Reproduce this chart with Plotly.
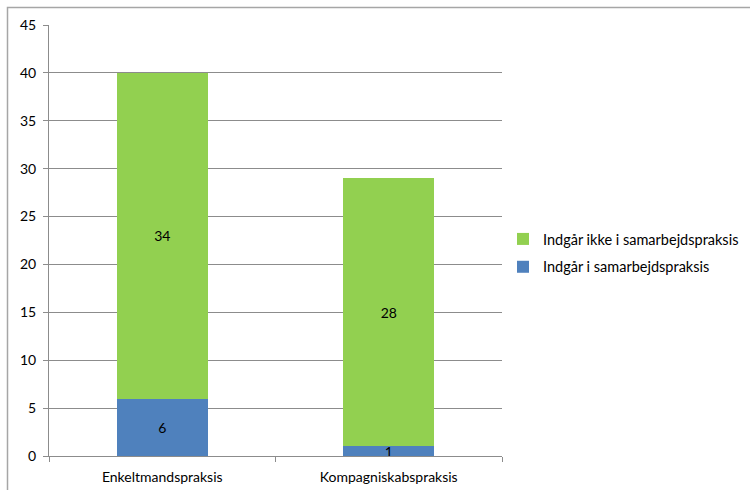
import plotly.graph_objects as go

categories = ["Enkeltmandspraksis", "Kompagniskabspraksis"]
series_in = [6, 1]
series_not_in = [34, 28]
name_in = "Indgår i samarbejdspraksis"
name_not_in = "Indgår ikke i samarbejdspraksis"
y_ticks = [0, 5, 10, 15, 20, 25, 30, 35, 40, 45]

FONT = "Lato"
FS = 14
GRID = "#8c8c8c"

fig = go.Figure()
fig.add_trace(go.Bar(
    x=categories, y=series_in, name=name_in,
    marker=dict(color="#4F81BD", line=dict(width=0)),
    text=series_in, textposition="inside", insidetextanchor="middle",
    textangle=0, constraintext="none",
    textfont=dict(color="black", size=FS, family=FONT),
    legendgroup="a", legendrank=2,
))
fig.add_trace(go.Bar(
    x=categories, y=series_not_in, name=name_not_in,
    marker=dict(color="#92D050", line=dict(width=0)),
    text=series_not_in, textposition="inside", insidetextanchor="middle",
    textangle=0, constraintext="none",
    textfont=dict(color="black", size=FS, family=FONT),
    legendgroup="b", legendrank=1,
))

L, R, T, B = 49, 248, 25, 34
W, H = 750, 490
pw, ph = W - L - R, H - T - B

fig.update_layout(
    width=W, height=H,
    margin=dict(l=L, r=R, t=T, b=B, autoexpand=False),
    barmode="stack", bargap=0.6,
    plot_bgcolor="white", paper_bgcolor="white",
    font=dict(family=FONT, size=FS, color="black"),
    showlegend=True,
    legend=dict(
        x=(503 - L) / pw, xanchor="left",
        y=(456 - 253) / ph, yanchor="middle",
        traceorder="grouped", tracegroupgap=6,
        itemwidth=30,
        font=dict(size=14.5, family=FONT),
        bgcolor="rgba(0,0,0,0)",
    ),
    xaxis=dict(
        showline=True, linecolor=GRID, linewidth=1,
        ticks="outside", tickson="boundaries", ticklen=5, tickcolor=GRID,
        showgrid=False, ticklabelstandoff=8, automargin=False,
    ),
    yaxis=dict(
        range=[0, 45], tickvals=y_ticks,
        showline=True, linecolor=GRID, linewidth=1,
        ticks="outside", ticklen=5, tickcolor=GRID,
        showgrid=True, gridcolor=GRID, gridwidth=1,
        zeroline=False, ticklabelstandoff=4, automargin=False,
    ),
    shapes=[dict(
        type="rect", xref="paper", yref="paper",
        x0=(7.5 - L) / pw, x1=(W + 20 - L) / pw,
        y0=(H - B - (H + 20)) / ph, y1=(H - B - 7.5) / ph,
        line=dict(color="#a6a6a6", width=1.5), fillcolor="rgba(0,0,0,0)",
        layer="below",
    )],
)

fig.write_html("out.html")
